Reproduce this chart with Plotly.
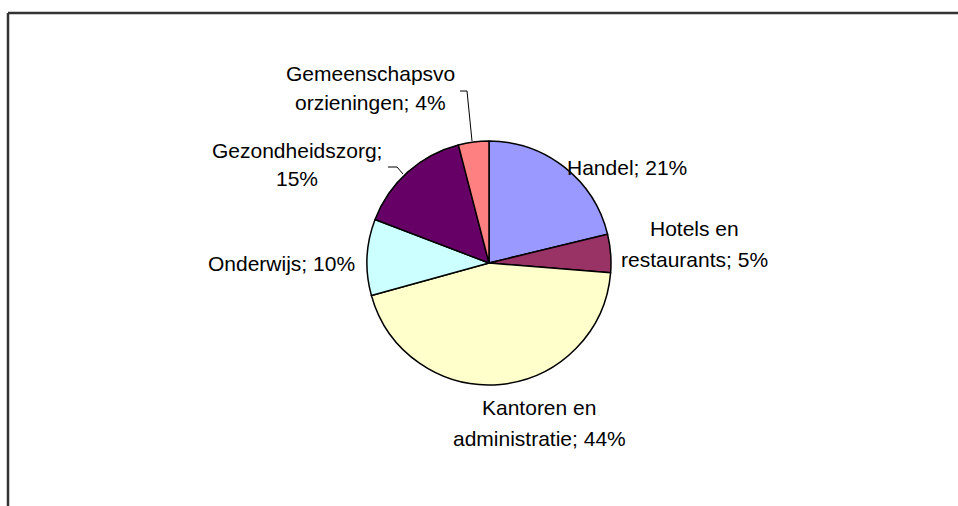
import plotly.graph_objects as go

# ---- data ----
categories = ["Handel", "Hotels en restaurants", "Kantoren en administratie",
              "Onderwijs", "Gezondheidszorg", "Gemeenschapsvoorzieningen"]
values = [21, 5, 44, 10, 15, 4]
colors = ["#9999FF", "#993366", "#FFFFCC", "#CCFFFF", "#660066", "#FF8080"]

# ---- layout helpers ----
W, H = 958, 506
cx, cy, r = 489, 263, 122
split_at = [None, 9, 11, None, 16, 14]          # where label wraps
label_pos = [(627, [167]), (694, [228, 259]), (539, [407, 438]),
             (281, [263]), (297, [150, 179]), (370, [73, 103])]

def px(x):
    return x / W

def py(y):
    return 1 - y / H

fig = go.Figure(go.Pie(
    labels=categories, values=values, sort=False, direction="clockwise",
    rotation=0, textinfo="none", hoverinfo="none", showlegend=False,
    marker=dict(colors=colors, line=dict(color="#000000", width=1.5)),
    domain=dict(x=[px(cx - r), px(cx + r)], y=[py(cy + r), py(cy - r)]),
))

annotations = []
for cat, val, sp, (x, ys) in zip(categories, values, split_at, label_pos):
    text = f"{cat}; {val}%"
    lines = [text] if sp is None else [text[:sp].strip(), text[sp:].strip()]
    for line, y in zip(lines, ys):
        annotations.append(dict(
            x=px(x), y=py(y), xref="paper", yref="paper", text=line,
            showarrow=False, xanchor="center", yanchor="middle",
            font=dict(family="Liberation Sans, Arial, sans-serif", size=21, color="#000000"),
        ))

shapes = [
    # chart frame (top and left edges visible)
    dict(type="line", xref="paper", yref="paper", x0=px(8), y0=py(13), x1=px(958), y1=py(13),
         line=dict(color="#333333", width=2.5)),
    dict(type="line", xref="paper", yref="paper", x0=px(8), y0=py(13), x1=px(8), y1=py(506),
         line=dict(color="#333333", width=2.5)),
    # leader lines
    dict(type="path", xref="paper", yref="paper",
         path=f"M {px(460)},{py(91)} L {px(467)},{py(91)} L {px(472)},{py(141)}",
         line=dict(color="#000000", width=1)),
    dict(type="path", xref="paper", yref="paper",
         path=f"M {px(388)},{py(167)} L {px(397)},{py(167)} L {px(403)},{py(174)}",
         line=dict(color="#000000", width=1)),
]

fig.update_layout(
    width=W, height=H, margin=dict(l=0, r=0, t=0, b=0),
    paper_bgcolor="#FFFFFF", plot_bgcolor="#FFFFFF",
    annotations=annotations, shapes=shapes,
)

fig.write_html(
    "out.html",
    config={"displayModeBar": False},
    post_script="document.body.style.margin='0';document.body.style.overflow='hidden';",
)
